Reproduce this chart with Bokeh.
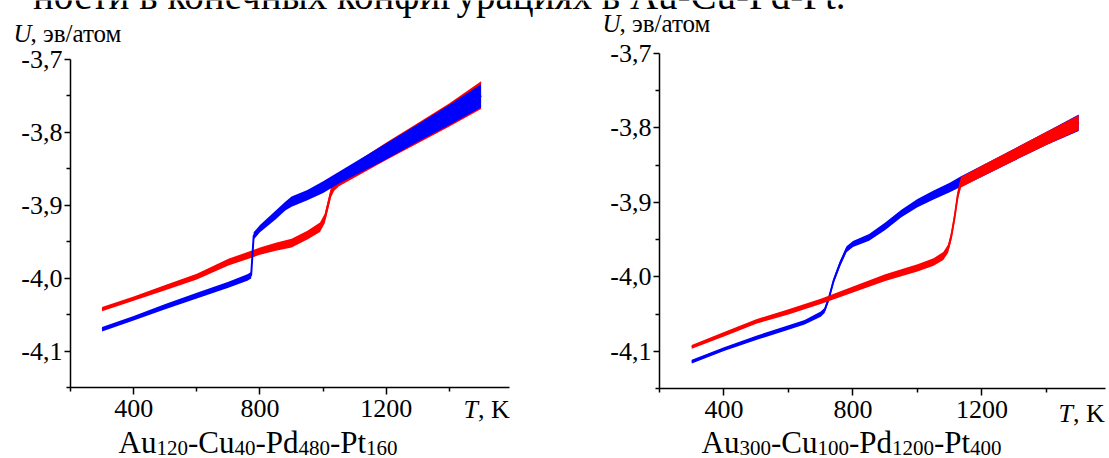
from bokeh.plotting import figure
from bokeh.models import Range1d, FixedTicker, CustomJSTickFormatter, Label
from bokeh.layouts import row
from bokeh.embed import file_html
from bokeh.resources import INLINE

FONT = "Liberation Serif"
RED = "#ff0000"
BLUE = "#0000ff"

# ---------------- axes / labels ----------------
x_major_ticks = [400, 800, 1200]
x_minor_ticks = [200, 600, 1000, 1400]
y_major_ticks = [-4.1, -4.0, -3.9, -3.8, -3.7]
y_minor_ticks = [-4.15, -4.05, -3.95, -3.85, -3.75]
y_label_main, y_label_rest = "U", ", эв/атом"
x_label_main, x_label_rest = "T", ", K"
caption_text = "ности в конечных конфигурациях в Au-Cu-Pd-Pt."

left_title = [("Au", False), ("120", True), ("-Cu", False), ("40", True),
              ("-Pd", False), ("480", True), ("-Pt", False), ("160", True)]
right_title = [("Au", False), ("300", True), ("-Cu", False), ("100", True),
               ("-Pd", False), ("1200", True), ("-Pt", False), ("400", True)]

# ---------------- left panel: Au120-Cu40-Pd480-Pt160 ----------------
left_blue_T = [300, 400, 500, 600, 700, 760, 772, 780, 800, 850, 880, 900, 950,
               1000, 1050, 1100, 1150, 1200, 1300, 1400, 1500]
left_blue_U = [-4.070, -4.055, -4.039, -4.024, -4.009, -3.999, -3.996, -3.942,
               -3.932, -3.913, -3.901, -3.895, -3.886, -3.875, -3.862, -3.850,
               -3.838, -3.826, -3.801, -3.776, -3.750]
left_blue_spread = [0.003, 0.003, 0.0035, 0.004, 0.004, 0.0045, 0.0045, 0.005,
                    0.005, 0.006, 0.006, 0.007, 0.007, 0.008, 0.008, 0.009,
                    0.010, 0.011, 0.012, 0.014, 0.016]

left_red_T = [300, 400, 500, 600, 700, 800, 850, 900, 950, 990, 1005, 1015, 1025,
              1035, 1050, 1100, 1150, 1200, 1300, 1400, 1500]
left_red_U = [-4.0425, -4.028, -4.013, -3.998, -3.978, -3.963, -3.957, -3.952,
              -3.941, -3.930, -3.918, -3.900, -3.882, -3.872, -3.866, -3.852,
              -3.839, -3.826, -3.801, -3.776, -3.749]
left_red_spread = [0.003, 0.003, 0.0035, 0.004, 0.0045, 0.005, 0.0055, 0.006,
                   0.006, 0.0065, 0.0065, 0.007, 0.007, 0.008, 0.008, 0.010,
                   0.011, 0.012, 0.014, 0.016, 0.019]

# ---------------- right panel: Au300-Cu100-Pd1200-Pt400 ----------------
right_blue_T = [300, 400, 500, 600, 650, 700, 712, 725, 740, 760, 780, 800, 850,
                900, 950, 1000, 1050, 1100, 1135, 1200, 1300, 1400, 1500]
right_blue_U = [-4.114, -4.097, -4.082, -4.068, -4.061, -4.050, -4.045, -4.029,
                -4.005, -3.982, -3.963, -3.956, -3.947, -3.932, -3.915, -3.901,
                -3.890, -3.880, -3.872, -3.858, -3.836, -3.814, -3.793]
right_blue_spread = [0.0025, 0.0025, 0.003, 0.003, 0.003, 0.0035, 0.0035, 0.0035,
                     0.0035, 0.004, 0.004, 0.004, 0.0045, 0.005, 0.005, 0.0055,
                     0.006, 0.0065, 0.007, 0.0075, 0.008, 0.009, 0.011]

right_red_T = [300, 400, 500, 600, 700, 800, 900, 1000, 1050, 1080, 1095, 1105,
               1115, 1125, 1135, 1200, 1300, 1400, 1500]
right_red_U = [-4.094, -4.077, -4.060, -4.047, -4.033, -4.017, -4.001, -3.988,
               -3.980, -3.972, -3.962, -3.945, -3.920, -3.890, -3.873, -3.858,
               -3.836, -3.814, -3.793]
right_red_spread = [0.0025, 0.003, 0.003, 0.0035, 0.0035, 0.004, 0.0045, 0.005,
                    0.005, 0.0055, 0.0055, 0.006, 0.006, 0.0065, 0.007, 0.0075,
                    0.008, 0.009, 0.010]

# Times / Liberation Serif advance widths (1/1000 em)
GLYPH_W = {"A": 722, "u": 500, "-": 333, "C": 667, "P": 556, "d": 500, "t": 278}

HEIGHT = 458
BASELINE_FIX = 0.33  # measured shift of rendered baseline, in em


def text_width(s, size):
    return sum(GLYPH_W.get(ch, 500) for ch in s) * size / 1000.0


def add_curve(p, T, U, spread, color):
    lo = [u - s for u, s in zip(U, spread)]
    hi = [u + s for u, s in zip(U, spread)]
    p.varea(x=T, y1=lo, y2=hi, fill_color=color, fill_alpha=1.0)
    p.line(T, U, line_color=color, line_width=2)


def label(p, x, y, text, size, italic=False, align="left"):
    # x, y: canvas pixels from top-left (y = wanted baseline); frame == canvas
    y_fixed = y - BASELINE_FIX * size
    p.add_layout(Label(x=x, y=HEIGHT - y_fixed, x_units="screen",
                       y_units="screen", text=text, text_font=FONT,
                       text_font_style="italic" if italic else "normal",
                       text_font_size=f"{size}px", text_color="black",
                       text_baseline="alphabetic", text_align=align))


def make_panel(width, offset, px_box, x_end, curves, title_parts,
               ylab_xy, xlab_xy, title_xy):
    x0px, x1px, ytop, ybot = px_box
    xmin, xmax, ymin, ymax = 200, x_end, -4.15, -3.7
    sx = (x1px - x0px) / (xmax - xmin)
    xs = xmin - x0px / sx
    sy = (ybot - ytop) / (ymax - ymin)
    ye = ymax + ytop / sy
    p = figure(width=width, height=HEIGHT, output_backend="svg",
               toolbar_location=None,
               x_range=Range1d(xs, xs + width / sx),
               y_range=Range1d(ye - HEIGHT / sy, ye),
               min_border=0, min_border_left=0, min_border_right=0,
               min_border_top=0, min_border_bottom=0)
    p.outline_line_color = None
    p.grid.visible = False
    p.background_fill_color = "white"
    p.border_fill_color = "white"

    for T, U, spread, color in curves:
        add_curve(p, T, U, spread, color)

    p.xaxis.fixed_location = ymin
    p.yaxis.fixed_location = xmin
    p.xaxis.bounds = (xmin, xmax)
    p.yaxis.bounds = (ymin, ymax)
    p.xaxis.ticker = FixedTicker(ticks=x_major_ticks, minor_ticks=x_minor_ticks)
    p.yaxis.ticker = FixedTicker(ticks=y_major_ticks, minor_ticks=y_minor_ticks)
    p.yaxis.formatter = CustomJSTickFormatter(
        code="return tick.toFixed(1).replace('.', ',');")
    for ax in (p.xaxis, p.yaxis):
        ax.axis_line_color = "black"
        ax.axis_line_width = 1.5
        ax.major_tick_line_color = "black"
        ax.major_tick_line_width = 1.5
        ax.minor_tick_line_color = "black"
        ax.minor_tick_line_width = 1.5
        ax.major_tick_in = 0
        ax.minor_tick_in = 0
        ax.major_label_text_font = FONT
        ax.major_label_text_font_size = "26px"
        ax.major_label_text_color = "black"
    p.xaxis.major_tick_out = 7
    p.xaxis.minor_tick_out = 4
    p.yaxis.major_tick_out = 6
    p.yaxis.minor_tick_out = 4
    p.xaxis.major_label_standoff = 5
    p.yaxis.major_label_standoff = 2

    # clipped caption line at the very top (continues across both panels)
    label(p, 845 - offset, 8, caption_text, 39, align="right")

    yx, yy = ylab_xy
    label(p, yx - offset, yy, y_label_main, 25, italic=True)
    label(p, yx - offset + 0.722 * 25 - 1, yy, y_label_rest, 25)
    xx, xy = xlab_xy
    label(p, xx - offset, xy, x_label_main, 26, italic=True)
    label(p, xx - offset + 0.556 * 26, xy, x_label_rest, 26)

    tx, ty = title_xy
    tx -= offset
    for part, is_sub in title_parts:
        size = 21 if is_sub else 31
        label(p, tx, ty + (2 if is_sub else 0), part, size)
        tx += text_width(part, size)
    return p


LEFT_W = 583
RIGHT_W = 1109 - LEFT_W

p_left = make_panel(
    LEFT_W, 0, (70, 509, 59, 387), 1590,
    [(left_red_T, left_red_U, left_red_spread, RED),
     (left_blue_T, left_blue_U, left_blue_spread, BLUE)],
    left_title, ylab_xy=(13, 41), xlab_xy=(463, 418), title_xy=(118, 452))

p_right = make_panel(
    RIGHT_W, LEFT_W, (659 - LEFT_W, 1105 - LEFT_W, 53, 388), 1583,
    [(right_blue_T, right_blue_U, right_blue_spread, BLUE),
     (right_red_T, right_red_U, right_red_spread, RED)],
    right_title, ylab_xy=(602, 31), xlab_xy=(1058, 422), title_xy=(701, 452))

layout = row(p_left, p_right)
open("out.html", "w").write(file_html(layout, INLINE))
